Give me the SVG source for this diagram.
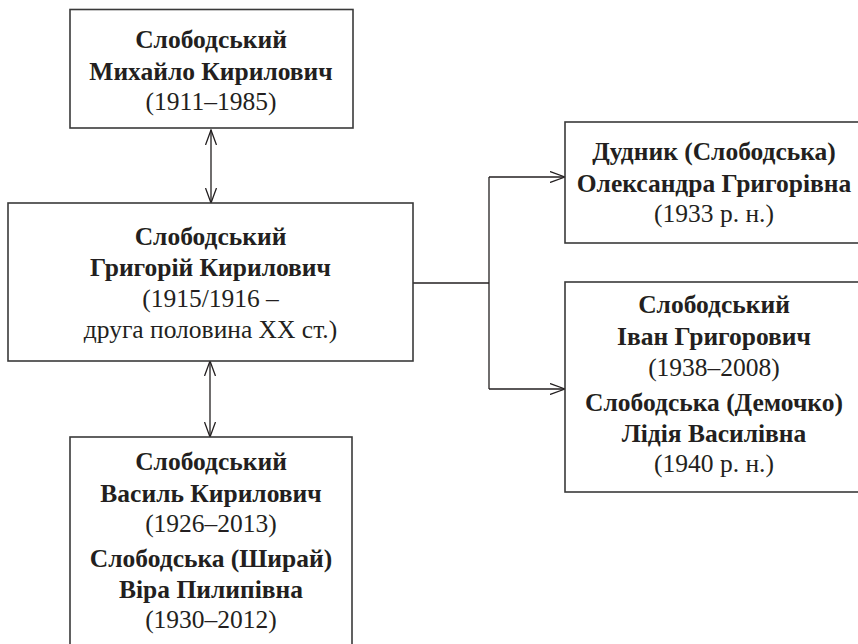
<svg xmlns="http://www.w3.org/2000/svg" width="858" height="644" viewBox="0 0 858 644">
<style>
.box{fill:#fff;stroke:#3a3a3a;stroke-width:1.6}
.b{font-family:"Liberation Serif","DejaVu Serif",serif;font-weight:bold;font-size:25.5px;fill:#231f20;text-anchor:middle}
.r{font-family:"Liberation Serif","DejaVu Serif",serif;font-size:25.5px;fill:#231f20;text-anchor:middle}
.ln{fill:none;stroke:#231f20;stroke-width:1.3}
</style>
<defs>
<marker id="ah" viewBox="0 0 16 12" refX="15" refY="6" markerWidth="16" markerHeight="12" markerUnits="userSpaceOnUse" orient="auto-start-reverse">
<path d="M0,0.5 L15,6 L0,11.5" fill="none" stroke="#231f20" stroke-width="1.3"/>
</marker>
</defs>
<rect width="858" height="644" fill="#fff"/>
<g id="connectors">
<line class="ln" x1="211" y1="130" x2="211" y2="203" marker-start="url(#ah)" marker-end="url(#ah)"/>
<line class="ln" x1="210" y1="361" x2="210" y2="437" marker-start="url(#ah)" marker-end="url(#ah)"/>
<path class="ln" d="M413,283 H489"/>
<path class="ln" d="M489,177 V389"/>
<line class="ln" x1="489" y1="177" x2="565" y2="177" marker-end="url(#ah)"/>
<line class="ln" x1="489" y1="389" x2="565" y2="389" marker-end="url(#ah)"/>
</g>
<g id="n1">
<rect class="box" x="70" y="9.5" width="283" height="118.5"/>
<text class="b" x="211" y="48">Слободський</text>
<text class="b" x="211" y="80">Михайло Кирилович</text>
<text class="r" x="211" y="110">(1911–1985)</text>
</g>
<g id="n2">
<rect class="box" x="8" y="203" width="405" height="158"/>
<text class="b" x="210.5" y="245">Слободський</text>
<text class="b" x="210.5" y="276">Григорій Кирилович</text>
<text class="r" x="210.5" y="307">(1915/1916 –</text>
<text class="r" x="210.5" y="338">друга половина XX ст.)</text>
</g>
<g id="n3">
<rect class="box" x="70" y="437" width="282" height="220"/>
<text class="b" x="211" y="470">Слободський</text>
<text class="b" x="211" y="502">Василь Кирилович</text>
<text class="r" x="211" y="532">(1926–2013)</text>
<text class="b" x="211" y="567">Слободська (Ширай)</text>
<text class="b" x="211" y="598">Віра Пилипівна</text>
<text class="r" x="211" y="628">(1930–2012)</text>
</g>
<g id="n4">
<rect class="box" x="565" y="122" width="300" height="121"/>
<text class="b" x="714" y="160">Дудник (Слободська)</text>
<text class="b" x="714" y="192">Олександра Григорівна</text>
<text class="r" x="714" y="222">(1933 р. н.)</text>
</g>
<g id="n5">
<rect class="box" x="565" y="282" width="300" height="210"/>
<text class="b" x="714" y="313">Слободський</text>
<text class="b" x="714" y="345">Іван Григорович</text>
<text class="r" x="714" y="376">(1938–2008)</text>
<text class="b" x="714" y="411">Слободська (Демочко)</text>
<text class="b" x="714" y="442">Лідія Василівна</text>
<text class="r" x="714" y="472">(1940 р. н.)</text>
</g>
</svg>
